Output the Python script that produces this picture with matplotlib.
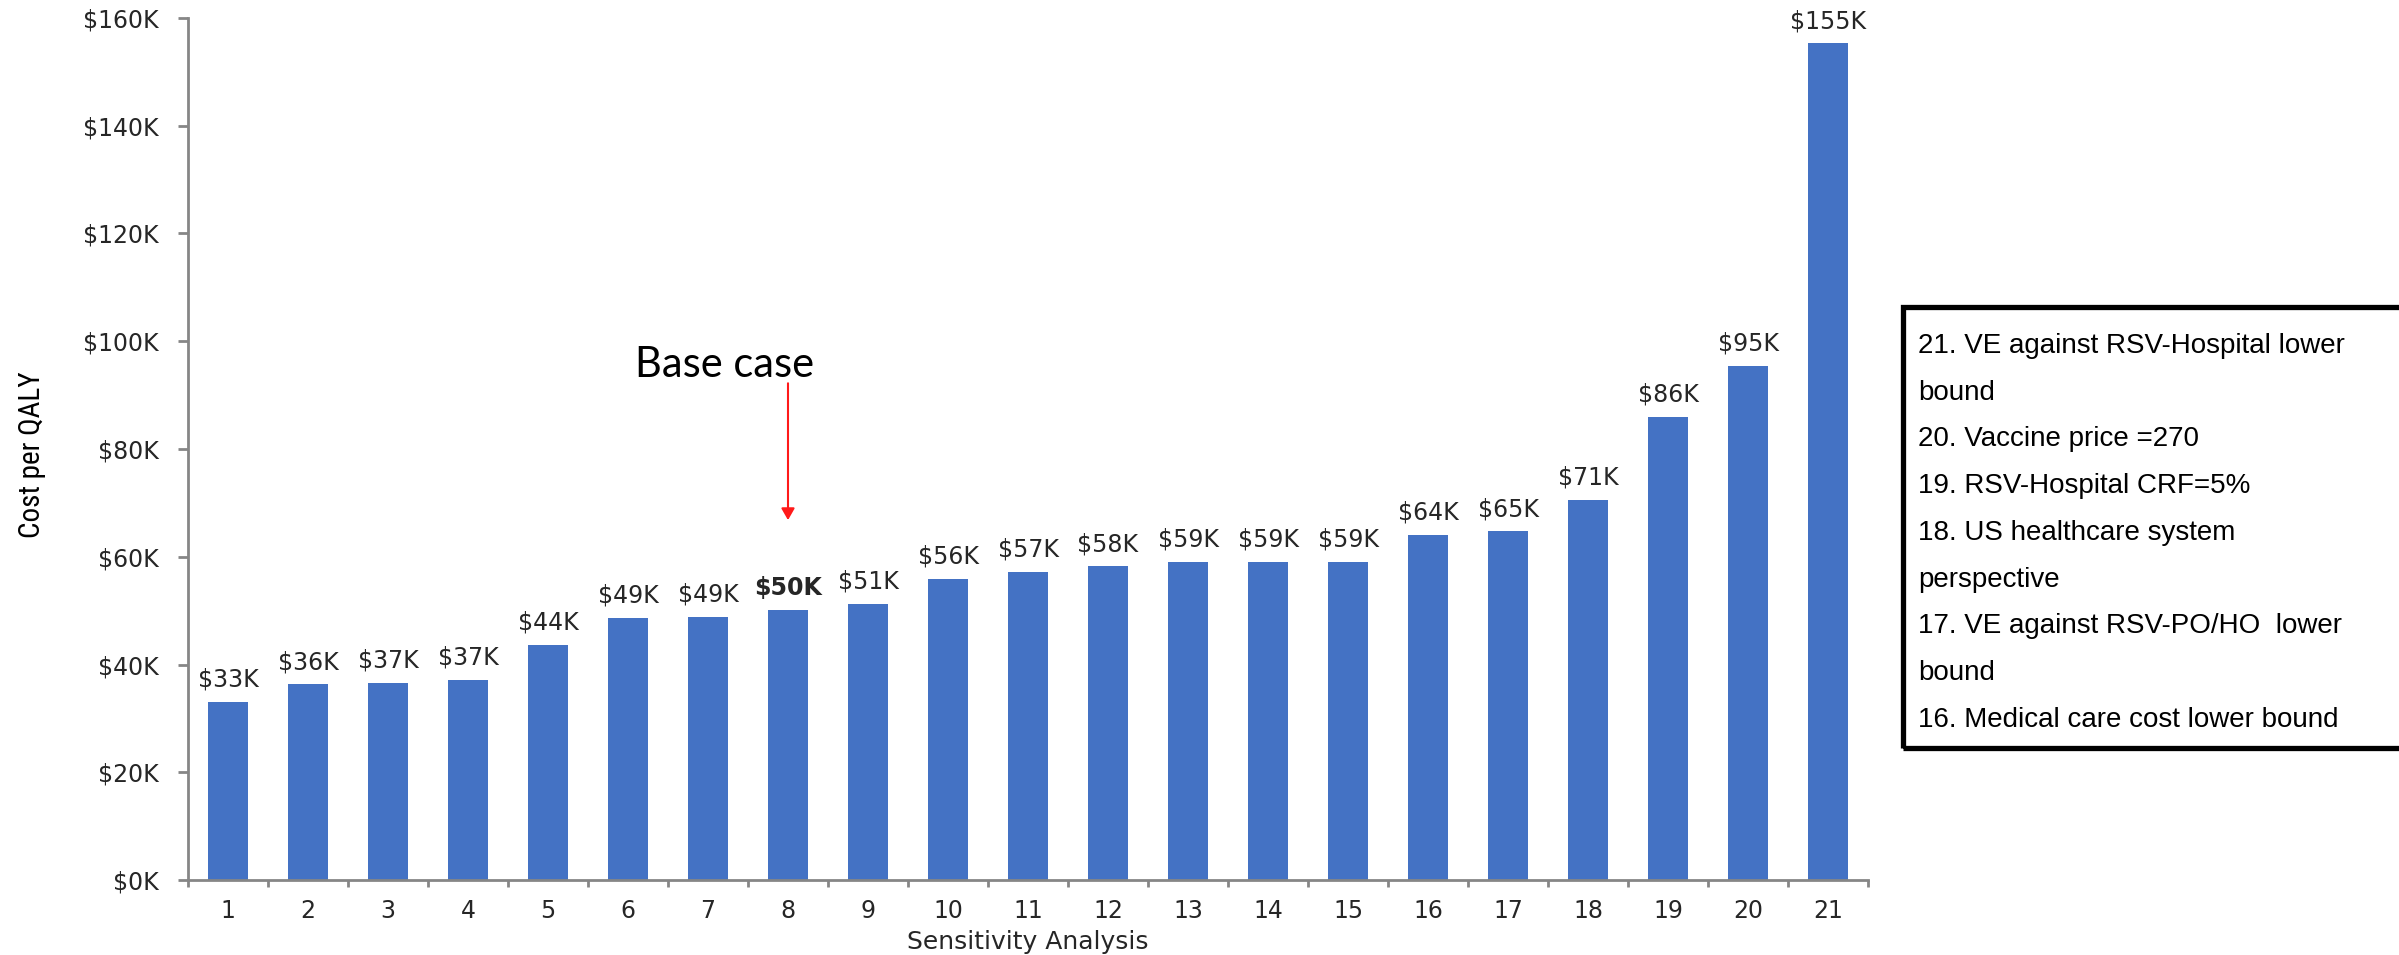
import matplotlib
matplotlib.use("Agg")
import matplotlib.pyplot as plt
from matplotlib import font_manager
from matplotlib.patches import Rectangle
from matplotlib.ticker import FuncFormatter, MultipleLocator
import numpy as np

# cost per QALY for each sensitivity analysis (USD)
analyses = [str(i) for i in range(1, 22)]
cost_per_qaly = [33100, 36300, 36600, 37200, 43600, 48600, 48900, 50100, 51300,
                 55900, 57200, 58200, 59000, 59100, 59100, 64100, 64700, 70600,
                 86000, 95400, 155300]
base_case = 8  # analysis number of the base case

key_lines = [
    "21. VE against RSV-Hospital lower",
    "bound",
    "20. Vaccine price =270",
    "19. RSV-Hospital CRF=5%",
    "18. US healthcare system",
    "perspective",
    "17. VE against RSV-PO/HO  lower",
    "bound",
    "16. Medical care cost lower bound",
]

bar_color = "#4472C4"
axis_color = "#868686"
text_color = "#262626"

# condensed face for the y label if one is around
ylab_family, ylab_size = "DejaVu Sans", 16
for fam in ["Liberation Sans Narrow", "Roboto Condensed", "Arial Narrow"]:
    try:
        font_manager.findfont(fam, fallback_to_default=False)
        ylab_family, ylab_size = fam, 21
        break
    except ValueError:
        pass

W, H = 2399, 955
fig = plt.figure(figsize=(W / 100, H / 100), dpi=100)
ax = fig.add_axes([188 / W, 1 - 880 / H, 1680 / W, 862 / H])

x = np.arange(len(analyses))
bars = ax.bar(x, cost_per_qaly, width=0.5, color=bar_color, zorder=2)

ax.set_xlim(-0.5, len(analyses) - 0.5)
ax.set_ylim(0, 160000)

# value labels, the base case in bold
for i, v in enumerate(cost_per_qaly):
    ax.annotate(f"${round(v / 1000):.0f}K", xy=(x[i], v), xytext=(0, 11),
                textcoords="offset points", ha="center", va="baseline",
                fontsize=17, color=text_color,
                fontweight="bold" if i + 1 == base_case else "normal")

# axes styling
for side in ["top", "right"]:
    ax.spines[side].set_visible(False)
for side in ["left", "bottom"]:
    ax.spines[side].set_color(axis_color)
    ax.spines[side].set_linewidth(2)

ax.yaxis.set_major_locator(MultipleLocator(20000))
ax.yaxis.set_major_formatter(FuncFormatter(lambda v, p: f"${v / 1000:.0f}K"))
ax.tick_params(axis="y", length=7, width=2, color=axis_color, pad=14,
               labelsize=17, labelcolor=text_color)

ax.set_xticks(x)
ax.set_xticklabels(analyses)
ax.set_xticks(np.arange(-0.5, len(analyses), 1), minor=True)
ax.tick_params(axis="x", which="major", length=0, pad=14,
               labelsize=17, labelcolor=text_color)
ax.tick_params(axis="x", which="minor", length=5, width=2, color=axis_color)

ax.set_xlabel("Sensitivity Analysis", fontsize=18, color=text_color, va="top")
ax.xaxis.set_label_coords(0.5, -0.058)
fig.text(32 / W, 1 - 455 / H, "Cost per QALY", rotation=90, ha="center",
         va="center", fontsize=ylab_size, color="black", family=ylab_family)

# base case pointer
bx = base_case - 1
ax.text(bx - 0.79, 93400, "Base case", ha="center", va="baseline",
        fontsize=30, family=["Lato", "DejaVu Sans"], color="black")
ax.annotate("", xy=(bx, 66800), xytext=(bx, 92200),
            arrowprops=dict(arrowstyle="-|>,head_length=0.7,head_width=0.4",
                            color="#ff1a1a", lw=1.5, shrinkA=0, shrinkB=0))

# key for the highest scenarios
fig.patches.append(Rectangle((1903 / W, 1 - 748 / H), 600 / W, 441 / H,
                             transform=fig.transFigure, fill=False,
                             edgecolor="black", linewidth=3.8, clip_on=False))
for i, line in enumerate(key_lines):
    fig.text(1918 / W, 1 - (353 + 46.7 * i) / H, line, ha="left",
             va="baseline", fontsize=20, family=["Liberation Sans", "DejaVu Sans"],
             color="black")

plt.savefig("out.png", dpi=100)
